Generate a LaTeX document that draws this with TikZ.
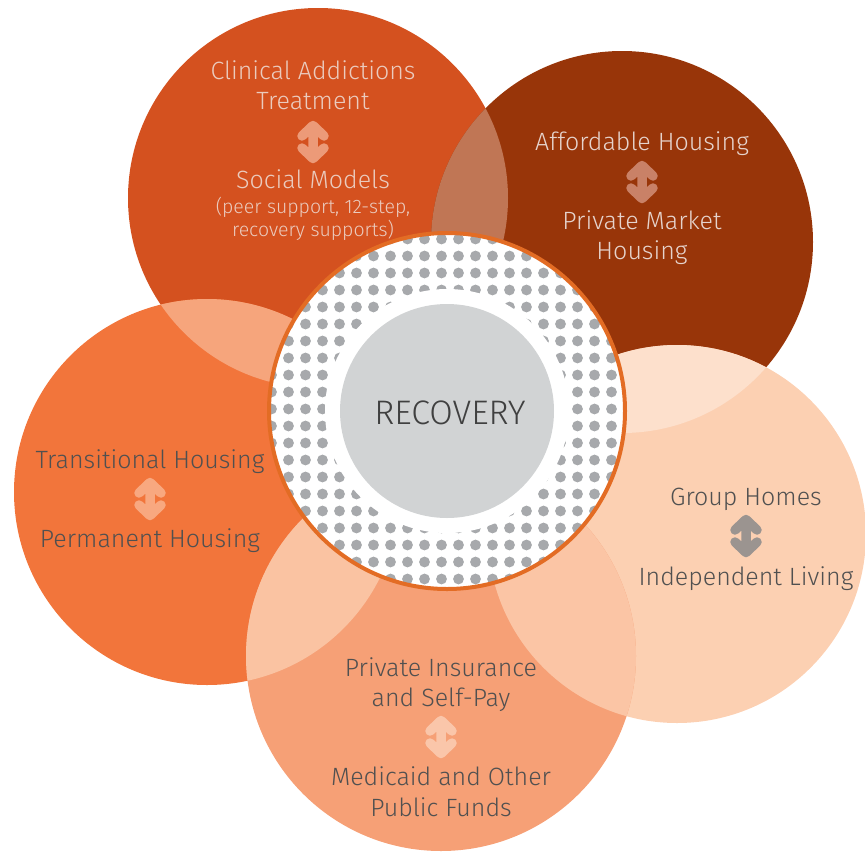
\documentclass[tikz,border=0pt]{standalone}
\usepackage{fontspec}
\setmainfont{Fira Sans}[UprightFont=* Light]
\usepackage{xcolor}
\usepackage{tikz}

\definecolor{cTL}{HTML}{D4511F}
\definecolor{cTR}{HTML}{983509}
\definecolor{cL}{HTML}{F2753B}
\definecolor{cR}{HTML}{FCD0B2}
\definecolor{cB}{HTML}{F6A076}
\definecolor{cTLTR}{HTML}{C07655}
\definecolor{cTLL}{HTML}{F6A57C}
\definecolor{cTRR}{HTML}{FDE0CC}
\definecolor{cLB}{HTML}{FAC3A2}
\definecolor{cBR}{HTML}{FBC5A5}
\definecolor{ring}{HTML}{E36C24}
\definecolor{dotgrey}{HTML}{A7A9AC}
\definecolor{hubgrey}{HTML}{D1D3D4}
\definecolor{tTL}{HTML}{EBCBBE}
\definecolor{tTR}{HTML}{E6D3CC}
\definecolor{tDark}{HTML}{505050}
\definecolor{aTL}{HTML}{EC9A78}
\definecolor{aTR}{HTML}{C98167}
\definecolor{aL}{HTML}{F8A880}
\definecolor{aR}{HTML}{9B9490}
\definecolor{aB}{HTML}{FAC6AA}

\begin{document}
\begin{tikzpicture}[x=1pt,y=-1pt,every node/.style={inner sep=0pt,anchor=base,font=\fontsize{25}{30}\selectfont}]
\tikzset{small/.style={font=\fontsize{19.5}{24}\selectfont}}
\tikzset{updown/.pic={\draw[line width=9.5pt,line cap=round,line join=round,pic actions]
    (0,-15) -- (0,15) (-11,-6) -- (0,-16.5) -- (11,-6) (-11,6) -- (0,16.5) -- (11,6);}}

\useasboundingbox (0,0) rectangle (865,852);

\coordinate (TL) at (318,198);
\coordinate (TR) at (622,242);
\coordinate (L) at (207,492);
\coordinate (R) at (677,534);
\coordinate (B) at (441,656);
\coordinate (C) at (447,411);

% the five petals
\fill[cTL] (TL) circle (190pt);
\fill[cTR] (TR) circle (191pt);
\fill[cL] (L) circle (193pt);
\fill[cR] (R) circle (189pt);
\fill[cB] (B) circle (195pt);

% overlaps
\begin{scope} \clip (TL) circle (190pt); \fill[cTLTR] (TR) circle (191pt); \end{scope}
\begin{scope} \clip (TL) circle (190pt); \fill[cTLL] (L) circle (193pt); \end{scope}
\begin{scope} \clip (TR) circle (191pt); \fill[cTRR] (R) circle (189pt); \end{scope}
\begin{scope} \clip (L) circle (193pt); \fill[cLB] (B) circle (195pt); \end{scope}
\begin{scope} \clip (B) circle (195pt); \fill[cBR] (R) circle (189pt); \end{scope}

% hub
\fill[white] (C) circle (178pt);
\begin{scope}
  \clip (C) circle (177pt);
  \foreach \i in {-11,...,11}
    \foreach \j in {-11,...,11}
      \fill[dotgrey] ([shift={(\i*17-5.5,\j*17-2)}]C) circle (5.4pt);
\end{scope}
\fill[white] (C) circle (122pt);
\fill[hubgrey] (C) circle (107pt);
\draw[ring,line width=4pt] (C) circle (178pt);
\node (HUB) [text=black!75,font=\fontsize{34}{34}\selectfont] at (450,424) {RECOVERY};

% top left
\node (TL1) [text=tTL] at (313,79) {Clinical Addictions};
\node (TL2) [text=tTL] at (313,109) {Treatment};
\pic[draw=aTL] at (313,142) {updown};
\node (TL3) [text=tTL] at (313,188) {Social Models};
\node (TL4) [text=tTL,small] at (313,213) {(peer support, 12-step,};
\node (TL5) [text=tTL,small] at (313,236) {recovery supports)};

% top right
\node (TR1) [text=tTR] at (642,150) {Affordable Housing};
\pic[draw=aTR] at (642,182) {updown};
\node (TR2) [text=tTR] at (642,229) {Private Market};
\node (TR3) [text=tTR] at (642,259) {Housing};

% left
\node (L1) [text=tDark] at (150,468) {Transitional Housing};
\pic[draw=aL] at (150,499) {updown};
\node (L2) [text=tDark] at (150,547) {Permanent Housing};

% right
\node (R1) [text=tDark] at (746,505) {Group Homes};
\pic[draw=aR] at (746,536) {updown};
\node (R2) [text=tDark] at (746,585) {Independent Living};

% bottom
\node (B1) [text=tDark] at (441,676) {Private Insurance};
\node (B2) [text=tDark] at (441,706) {and Self-Pay};
\pic[draw=aB] at (441,737) {updown};
\node (B3) [text=tDark] at (441,785) {Medicaid and Other};
\node (B4) [text=tDark] at (441,816) {Public Funds};
\end{tikzpicture}
\end{document}
